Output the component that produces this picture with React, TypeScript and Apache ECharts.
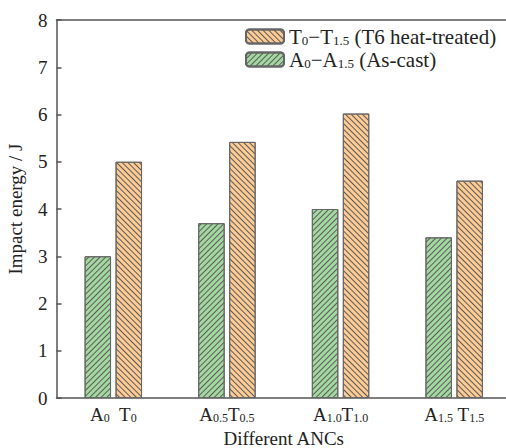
import React, { useEffect, useRef } from "react";
import * as echarts from "echarts";

const groupSubs = ["0", "0.5", "1.0", "1.5"];
const asCast = [3.0, 3.7, 4.0, 3.4];
const heatTreated = [5.0, 5.42, 6.02, 4.6];
const yTicks = [0, 8, 1];

const FONT = "Liberation Serif";
const ORANGE = "#FDCB93";
const GREEN = "#A3D9A0";

export default function App() {
  const ref = useRef<HTMLDivElement>(null);
  useEffect(() => {
    if (!ref.current) return;
    const chart = echarts.init(ref.current, undefined, { renderer: "svg" });
    const rich = {
      n: { fontFamily: FONT, fontSize: 19, color: "#222" },
      s: { fontFamily: FONT, fontSize: 12, color: "#222", padding: [8, 0, 0, 0] },
    };
    const legRich = {
      n: { fontFamily: FONT, fontSize: 21, color: "#222" },
      s: { fontFamily: FONT, fontSize: 13, color: "#222", padding: [8, 0, 0, 0] },
    };
    const cats = groupSubs.map((s) => "A" + s + "T" + s);
    chart.setOption({
      animation: false,
      textStyle: { fontFamily: FONT },
      grid: { left: 56.5, right: -5, top: 20, bottom: 50, outerBoundsMode: "none", containLabel: false },
      legend: {
        orient: "vertical",
        left: 240,
        top: 21,
        itemWidth: 38,
        itemHeight: 14,
        itemGap: 2,
        data: ["T", "A"],
        formatter: (name: string) =>
          name === "T"
            ? "{n|T}{s|0}{n|−T}{s|1.5}{n| (T6 heat-treated)}"
            : "{n|A}{s|0}{n|−A}{s|1.5}{n| (As-cast)}",
        textStyle: { fontFamily: FONT, fontSize: 21, rich: legRich },
      },
      xAxis: [
        {
          type: "category",
          data: cats,
          name: "Different ANCs",
          nameLocation: "middle",
          nameGap: 30,
          nameTextStyle: { fontFamily: FONT, fontSize: 19, color: "#222" },
          axisLine: { lineStyle: { color: "#555", width: 1.5 } },
          axisTick: { inside: true, length: 5, lineStyle: { color: "#555", width: 1.5 } },
          axisLabel: {
            interval: 0,
            margin: 6,
            fontFamily: FONT,
            formatter: (_v: string, i: number) => {
              const s = groupSubs[i];
              const sep = s === "0" ? "{n|  }" : s === "1.5" ? "{n| }" : "";
              return "{n|A}{s|" + s + "}" + sep + "{n|T}{s|" + s + "}";
            },
            rich,
          },
        },
        {
          type: "category",
          data: cats,
          position: "top",
          axisLine: { show: true, lineStyle: { color: "#555", width: 1.5 } },
          axisTick: { show: false },
          axisLabel: { show: false },
        },
      ],
      yAxis: {
        type: "value",
        min: yTicks[0],
        max: yTicks[1],
        interval: yTicks[2],
        name: "Impact energy / J",
        nameLocation: "middle",
        nameGap: 32,
        nameTextStyle: { fontFamily: FONT, fontSize: 19, color: "#222" },
        axisLine: { show: true, lineStyle: { color: "#555", width: 1.5 } },
        axisTick: { show: true, inside: true, length: 5, lineStyle: { color: "#555", width: 1.5 } },
        axisLabel: { fontFamily: FONT, fontSize: 19, color: "#222", margin: 9 },
        splitLine: { show: false },
      },
      series: [
        {
          name: "A",
          type: "bar",
          data: asCast,
          barWidth: "23.3%",
          barGap: "17%",
          itemStyle: {
            color: GREEN,
            borderColor: "#666",
            borderWidth: 1,
            decal: {
              symbol: "rect",
              symbolSize: 1,
              color: "#5a5a5a",
              dashArrayX: [1, 0],
              dashArrayY: [1, 3],
              rotation: -Math.PI / 4,
            },
          },
        },
        {
          name: "T",
          type: "bar",
          data: heatTreated,
          barWidth: "23.3%",
          barGap: "17%",
          itemStyle: {
            color: ORANGE,
            borderColor: "#666",
            borderWidth: 1,
            decal: {
              symbol: "rect",
              symbolSize: 1,
              color: "#5a5a5a",
              dashArrayX: [1, 0],
              dashArrayY: [1, 3],
              rotation: Math.PI / 4,
            },
          },
        },
      ],
    });
    return () => chart.dispose();
  }, []);
  return (
    <div
      ref={ref}
      style={{ position: "absolute", left: 0, top: 0, width: 506, height: 448 }}
    />
  );
}
